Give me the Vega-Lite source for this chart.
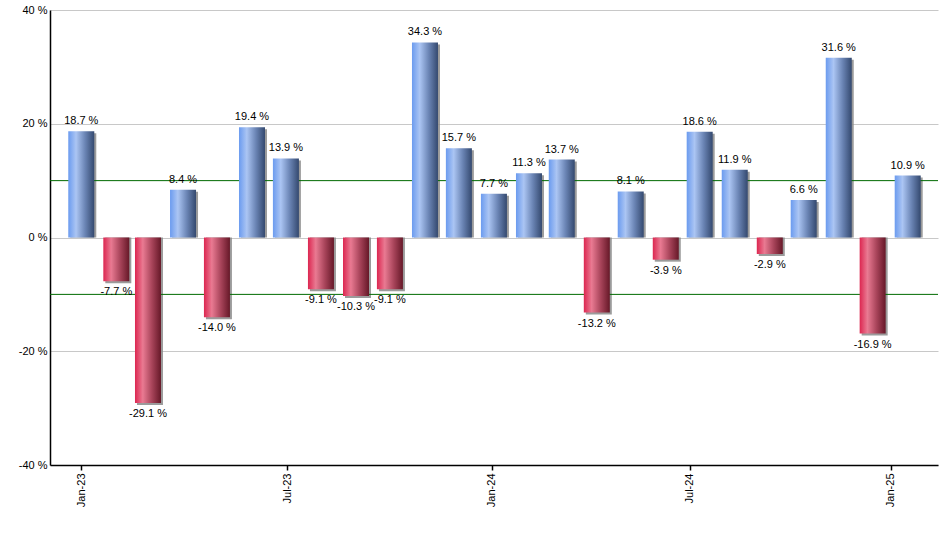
{
  "$schema": "https://vega.github.io/schema/vega-lite/v6.json",
  "width": 888,
  "height": 455,
  "autosize": "none",
  "padding": {"left": 50, "top": 10, "right": 2, "bottom": 85},
  "background": "white",
  "config": {
    "view": {"stroke": null},
    "font": "Liberation Sans",
    "axis": {"labelFont": "Liberation Sans", "labelFontSize": 11, "labelColor": "#000000"}
  },
  "data": {
    "values": [
      {"date": "2023-01-01", "v": 18.7},
      {"date": "2023-02-01", "v": -7.7},
      {"date": "2023-03-01", "v": -29.1},
      {"date": "2023-04-01", "v": 8.4},
      {"date": "2023-05-01", "v": -14.0},
      {"date": "2023-06-01", "v": 19.4},
      {"date": "2023-07-01", "v": 13.9},
      {"date": "2023-08-01", "v": -9.1},
      {"date": "2023-09-01", "v": -10.3},
      {"date": "2023-10-01", "v": -9.1},
      {"date": "2023-11-01", "v": 34.3},
      {"date": "2023-12-01", "v": 15.7},
      {"date": "2024-01-01", "v": 7.7},
      {"date": "2024-02-01", "v": 11.3},
      {"date": "2024-03-01", "v": 13.7},
      {"date": "2024-04-01", "v": -13.2},
      {"date": "2024-05-01", "v": 8.1},
      {"date": "2024-06-01", "v": -3.9},
      {"date": "2024-07-01", "v": 18.6},
      {"date": "2024-08-01", "v": 11.9},
      {"date": "2024-09-01", "v": -2.9},
      {"date": "2024-10-01", "v": 6.6},
      {"date": "2024-11-01", "v": 31.6},
      {"date": "2024-12-01", "v": -16.9},
      {"date": "2025-01-01", "v": 10.9}
    ]
  },
  "encoding": {
    "x": {
      "field": "date",
      "type": "temporal",
      "scale": {
        "domain": [
          {"year": 2022, "month": 12, "date": 4, "hours": 8, "utc": true},
          {"year": 2025, "month": 1, "date": 27, "hours": 19, "utc": true}
        ],
        "nice": false,
        "padding": 0
      },
      "axis": {
        "title": null,
        "values": [
          {"year": 2023, "month": 1, "date": 1, "utc": true},
          {"year": 2023, "month": 7, "date": 2, "utc": true},
          {"year": 2023, "month": 12, "date": 30, "hours": 7, "utc": true},
          {"year": 2024, "month": 6, "date": 22, "hours": 10, "utc": true},
          {"year": 2024, "month": 12, "date": 17, "hours": 5, "utc": true}
        ],
        "labelExpr": "utcFormat(datum.value + 15*86400000, '%b-%y')",
        "labelAngle": -90,
        "labelAlign": "right",
        "labelBaseline": "middle",
        "labelPadding": 3,
        "domainColor": "#000000",
        "domainWidth": 1.5,
        "tickColor": "#000000",
        "tickSize": 5,
        "tickWidth": 1.5,
        "grid": false
      }
    }
  },
  "layer": [
    {
      "mark": {"type": "bar", "size": 26, "color": "#8a8a8a", "opacity": 0.85, "xOffset": 2, "yOffset": 2},
      "encoding": {
        "y": {
          "field": "v",
          "type": "quantitative",
          "scale": {"domain": [-40, 40], "nice": false},
          "axis": {
            "title": null,
            "values": [-40, -20, 0, 20, 40],
            "labelExpr": "datum.value + ' %'",
            "grid": true,
            "gridColor": "#c8c8c8",
            "gridWidth": 1,
            "domainColor": "#000000",
            "domainWidth": 1.5,
            "ticks": false,
            "labelPadding": 3
          }
        },
        "y2": {"datum": 0}
      }
    },
    {
      "data": {"values": [{"y": 10}, {"y": -10}]},
      "mark": {"type": "rule", "color": "#006a00", "strokeWidth": 1},
      "encoding": {"y": {"field": "y", "type": "quantitative"}, "x": {"value": 0}, "x2": {"value": 888}}
    },
    {
      "transform": [{"filter": "datum.v >= 0"}],
      "mark": {
        "type": "bar",
        "size": 26,
        "color": {
          "gradient": "linear",
          "x1": 0, "y1": 0, "x2": 1, "y2": 0,
          "stops": [
            {"offset": 0, "color": "#6b9bef"},
            {"offset": 0.3, "color": "#abc5f3"},
            {"offset": 0.65, "color": "#6a84b4"},
            {"offset": 1, "color": "#34496f"}
          ]
        }
      },
      "encoding": {
        "y": {"field": "v", "type": "quantitative"},
        "y2": {"datum": 0}
      }
    },
    {
      "transform": [{"filter": "datum.v < 0"}],
      "mark": {
        "type": "bar",
        "size": 26,
        "color": {
          "gradient": "linear",
          "x1": 0, "y1": 0, "x2": 1, "y2": 0,
          "stops": [
            {"offset": 0, "color": "#dc2650"},
            {"offset": 0.3, "color": "#e97a92"},
            {"offset": 0.65, "color": "#a8445a"},
            {"offset": 1, "color": "#661828"}
          ]
        }
      },
      "encoding": {
        "y": {"field": "v", "type": "quantitative"},
        "y2": {"datum": 0}
      }
    },
    {
      "transform": [{"filter": "datum.v >= 0"}, {"calculate": "format(datum.v, '.1f') + ' %'", "as": "lbl"}],
      "mark": {"type": "text", "baseline": "bottom", "dy": -5, "fontSize": 11, "color": "#000000"},
      "encoding": {
        "y": {"field": "v", "type": "quantitative"},
        "text": {"field": "lbl"}
      }
    },
    {
      "transform": [{"filter": "datum.v < 0"}, {"calculate": "'-' + format(-datum.v, '.1f') + ' %'", "as": "lbl"}],
      "mark": {"type": "text", "baseline": "top", "dy": 5, "fontSize": 11, "color": "#000000"},
      "encoding": {
        "y": {"field": "v", "type": "quantitative"},
        "text": {"field": "lbl"}
      }
    }
  ]
}
